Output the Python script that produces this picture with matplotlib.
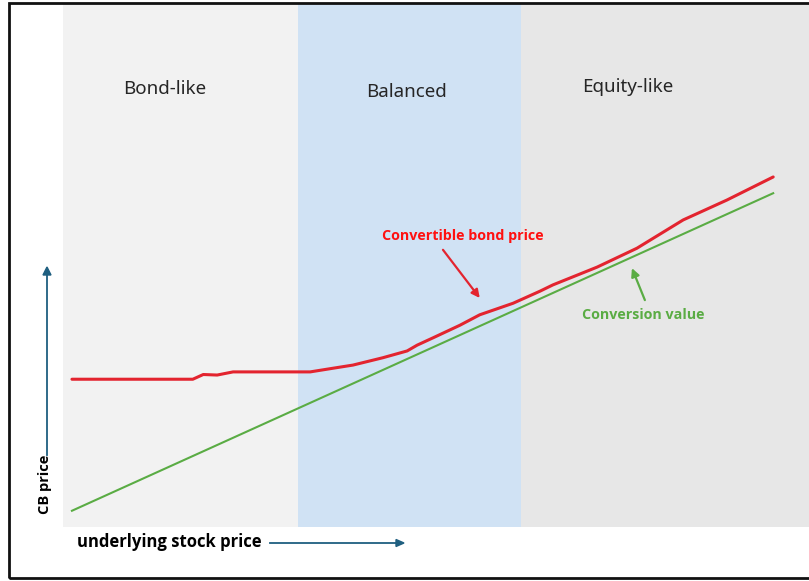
import matplotlib.pyplot as plt
from matplotlib.patches import Rectangle

plt.rcParams['font.family'] = ['Noto Sans', 'DejaVu Sans']
BOLD_FAMILY = ['Open Sans', 'DejaVu Sans']

# regions on the stock price axis
regions = ["Bond-like", "Balanced", "Equity-like"]
region_edges = [0, 47.3, 92.1, 150]
region_colors = ["#f2f2f2", "#d0e2f4", "#e7e7e7"]

# convertible bond price
cb_x = [1.8, 26.1, 28.2, 31.0, 34.2, 49.7, 54.3, 58.3, 64.3, 69.2, 71.2, 74.4,
        79.8, 83.8, 90.5, 95.9, 98.5, 107.4, 115.4, 124.7, 133.5, 142.8]
cb_y = [28.2, 28.2, 29.1, 29.0, 29.6, 29.6, 30.3, 30.9, 32.3, 33.6, 34.7, 36.1,
        38.5, 40.5, 42.7, 45.0, 46.2, 49.6, 53.2, 58.6, 62.4, 66.8]

# conversion value
conv_x = [1.8, 142.8]
conv_y = [3.1, 63.7]

fig = plt.figure(figsize=(8.09, 5.81), dpi=100)
ax = fig.add_axes([63/809, 54/581, 746/809, 524/581])
ax.set_xlim(0, 150)
ax.set_ylim(0, 100)
ax.axis('off')

for name, lo, hi, c in zip(regions, region_edges[:-1], region_edges[1:], region_colors):
    ax.axvspan(lo, hi, color=c, lw=0)

ax.text(20.4, 83.5, regions[0], fontsize=13.5, color="#262626", ha='center', va='center')
ax.text(69.0, 83.0, regions[1], fontsize=13.5, color="#262626", ha='center', va='center')
ax.text(113.5, 84.0, regions[2], fontsize=13.5, color="#262626", ha='center', va='center')

ax.plot(cb_x, cb_y, color="#e3242f", lw=2.2, solid_capstyle='round')
ax.plot(conv_x, conv_y, color="#5aac44", lw=1.5)

ax.text(80.4, 55.5, "Convertible bond price", color="#ff1010", fontsize=10.3,
        fontweight='bold', family=BOLD_FAMILY, ha='center', va='center')
ax.annotate("", xy=(83.8, 43.7), xytext=(76.4, 52.9),
            arrowprops=dict(arrowstyle='-|>', color="#e3242f", lw=1.6,
                            shrinkA=0, shrinkB=0, mutation_scale=12))
ax.text(116.6, 40.4, "Conversion value", color="#5aac44", fontsize=10.3,
        fontweight='bold', family=BOLD_FAMILY, ha='center', va='center')
ax.annotate("", xy=(114.4, 49.4), xytext=(117.0, 43.3),
            arrowprops=dict(arrowstyle='-|>', color="#5aac44", lw=1.6,
                            shrinkA=0, shrinkB=0, mutation_scale=12))

# axis labels with arrows, outside the plot area
arrow_col = "#1f5f80"
fig.text(45/809, 1 - 484/581, "CB price", rotation=90, fontsize=10.5,
         fontweight='bold', family=BOLD_FAMILY, ha='center', va='center')
fig.add_artist(plt.Line2D([47/809, 47/809], [1 - 455/581, 1 - 275/581], color=arrow_col, lw=1.3))
fig.patches.append(plt.Polygon([[43/809, 1 - 275/581], [51/809, 1 - 275/581], [47/809, 1 - 267/581]],
                               closed=True, color=arrow_col, transform=fig.transFigure))
fig.text(169/809, 1 - 542/581, "underlying stock price", fontsize=12,
         fontweight='bold', family=BOLD_FAMILY, ha='center', va='center')
fig.add_artist(plt.Line2D([270/809, 397/809], [1 - 543/581, 1 - 543/581], color=arrow_col, lw=1.3))
fig.patches.append(plt.Polygon([[396/809, 1 - 539.5/581], [396/809, 1 - 546.5/581], [404/809, 1 - 543/581]],
                               closed=True, color=arrow_col, transform=fig.transFigure))

# frame around the whole picture
fig.patches.append(Rectangle((9/809, 3/581), 1.2, 575/581, fill=False, ec="#111111", lw=2,
                             transform=fig.transFigure, zorder=10))

plt.savefig('out.png', dpi=100)
